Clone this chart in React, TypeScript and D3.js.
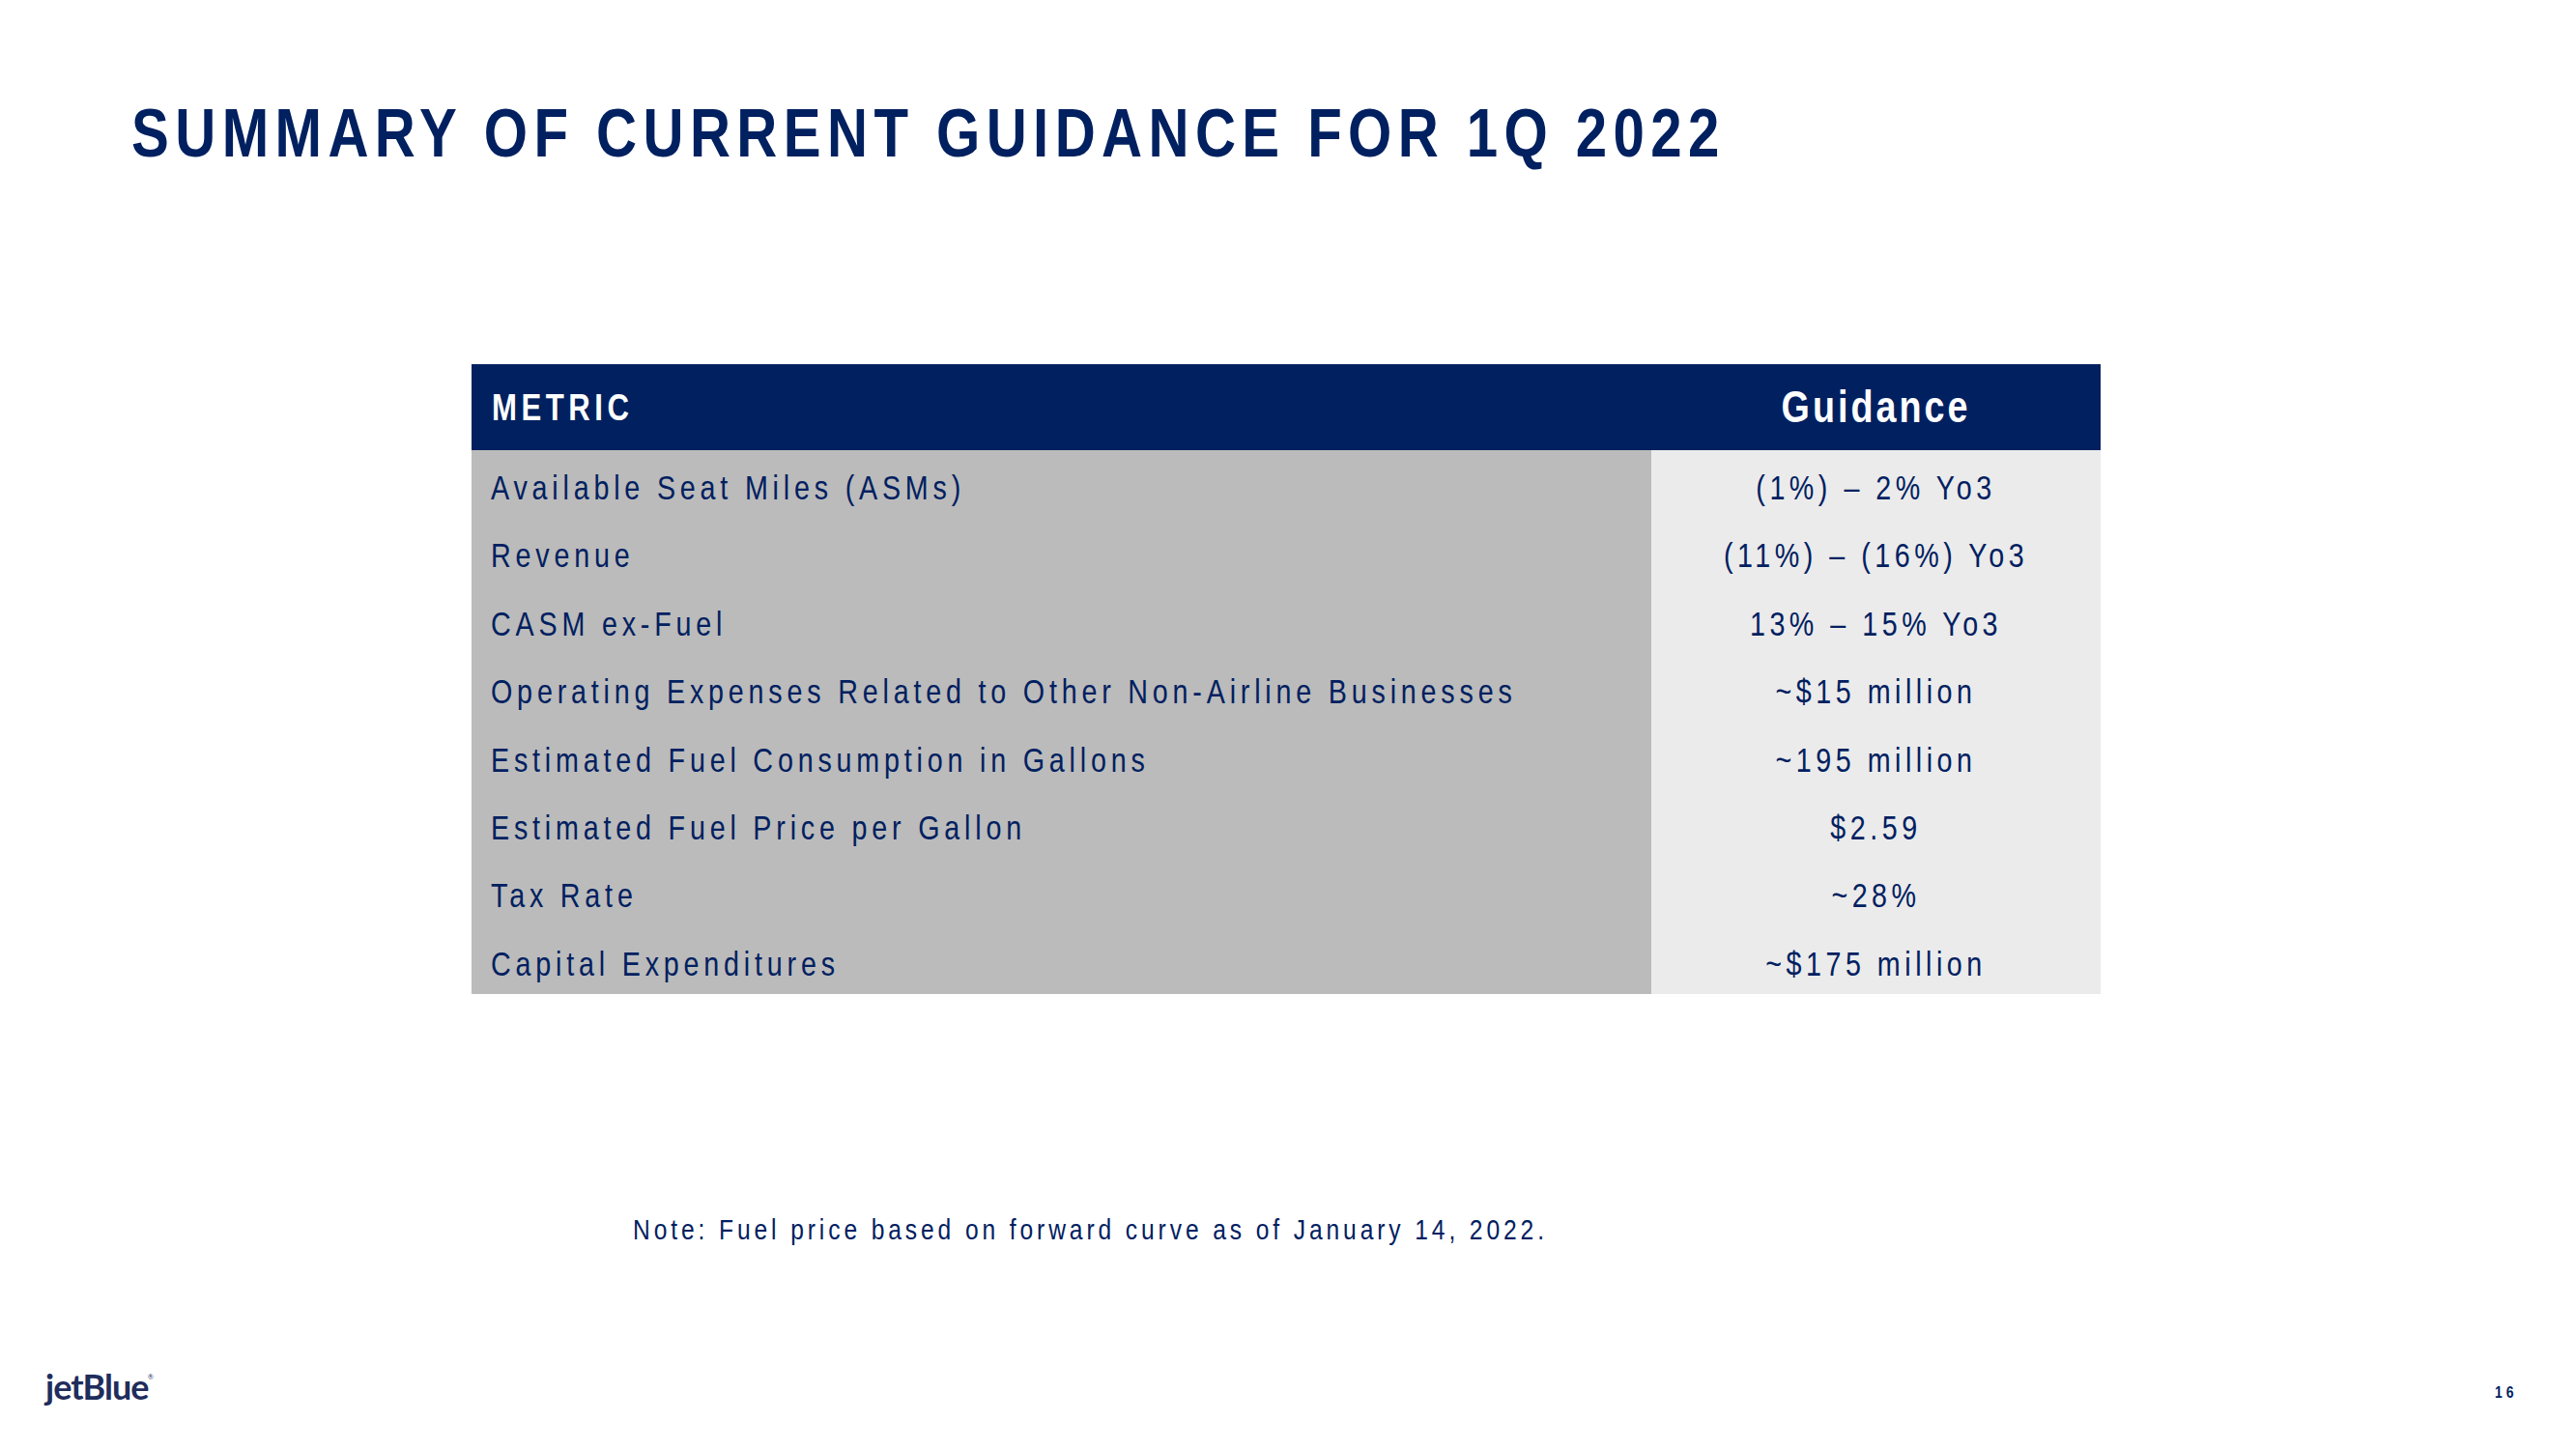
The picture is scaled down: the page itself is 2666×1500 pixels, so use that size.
import React from "react";
import * as d3 from "d3";

const title = "SUMMARY OF CURRENT GUIDANCE FOR 1Q 2022";
const headerLabels = ["METRIC", "Guidance"];
const metrics = [
  "Available Seat Miles (ASMs)",
  "Revenue",
  "CASM ex-Fuel",
  "Operating Expenses Related to Other Non-Airline Businesses",
  "Estimated Fuel Consumption in Gallons",
  "Estimated Fuel Price per Gallon",
  "Tax Rate",
  "Capital Expenditures",
];
const guidance = [
  "(1%) \u2013 2% Yo3",
  "(11%) \u2013 (16%) Yo3",
  "13% \u2013 15% Yo3",
  "~$15 million",
  "~195 million",
  "$2.59",
  "~28%",
  "~$175 million",
];
const note = "Note: Fuel price based on forward curve as of January 14, 2022.";
const pageNumber = "16";

const W = 2666;
const H = 1500;
const NAVY = "#002060";
const FONT = "'Liberation Sans', Arial, sans-serif";
const SX = 0.82; // narrow (condensed) appearance

type CTProps = {
  x: number;
  y: number;
  size: number;
  spacing: number;
  weight?: number;
  fill?: string;
  anchor?: "start" | "middle" | "end";
  children: React.ReactNode;
};

function CondText({ x, y, size, spacing, weight = 400, fill = NAVY, anchor = "start", children }: CTProps) {
  return (
    <g transform={`translate(${x},${y}) scale(${SX},1)`}>
      <text
        x={0}
        y={0}
        fill={fill}
        fontFamily={FONT}
        fontWeight={weight}
        fontSize={size}
        letterSpacing={spacing / SX}
        textAnchor={anchor}
      >
        {children}
      </text>
    </g>
  );
}

export default function App() {
  const tableLeft = 488;
  const tableRight = 2174;
  const colSplit = 1709;
  const headerTop = 377;
  const headerBottom = 466;
  const tableBottom = 1029;

  const y = d3.scaleBand<string>().domain(metrics).range([headerBottom, tableBottom]).padding(0);
  const x = d3.scaleOrdinal<string, number>().domain(headerLabels).range([tableLeft, colSplit]);
  const guidanceCenter = (colSplit + tableRight) / 2;
  const bw = y.bandwidth();

  return (
    <svg
      width={W}
      height={H}
      viewBox={`0 0 ${W} ${H}`}
      style={{ position: "absolute", left: 0, top: 0, background: "#ffffff" }}
    >
      <rect x={0} y={0} width={W} height={H} fill="#ffffff" />
      <CondText x={136} y={162} size={71} spacing={6.4} weight={700}>
        {title}
      </CondText>

      {/* header */}
      <rect x={tableLeft} y={headerTop} width={tableRight - tableLeft} height={headerBottom - headerTop} fill={NAVY} />
      <CondText x={(x(headerLabels[0]) as number) + 21} y={435} size={38} spacing={4.5} weight={700} fill="#ffffff">
        {headerLabels[0]}
      </CondText>
      <CondText x={guidanceCenter} y={437} size={46} spacing={3} weight={700} fill="#ffffff" anchor="middle">
        {headerLabels[1]}
      </CondText>

      {/* body */}
      <rect x={tableLeft} y={headerBottom} width={colSplit - tableLeft} height={tableBottom - headerBottom} fill="#bbbbbb" />
      <rect x={colSplit} y={headerBottom} width={tableRight - colSplit} height={tableBottom - headerBottom} fill="#ebebeb" />

      {metrics.map((m, i) => {
        const top = y(m) as number;
        return (
          <g key={m}>
            <CondText x={tableLeft + 20} y={top + bw * 0.725} size={35} spacing={4.8}>
              {m}
            </CondText>
            <CondText x={guidanceCenter} y={top + bw * 0.725} size={35} spacing={4.5} anchor="middle">
              {guidance[i]}
            </CondText>
          </g>
        );
      })}

      <CondText x={655} y={1283} size={30} spacing={3.9}>
        {note}
      </CondText>

      {/* logo */}
      <text x={47} y={1449} fill="#1f2d5c" fontFamily="Lato, 'Noto Sans', sans-serif" fontWeight={700} fontSize={36} letterSpacing={-1}>
        jetBlue
      </text>
      <text x={153} y={1428} fill="#1f2d5c" fontFamily="Lato, sans-serif" fontSize={7}>
        {"\u00AE"}
      </text>

      <CondText x={2582} y={1447} size={17} spacing={4} weight={700}>
        {pageNumber}
      </CondText>
    </svg>
  );
}
